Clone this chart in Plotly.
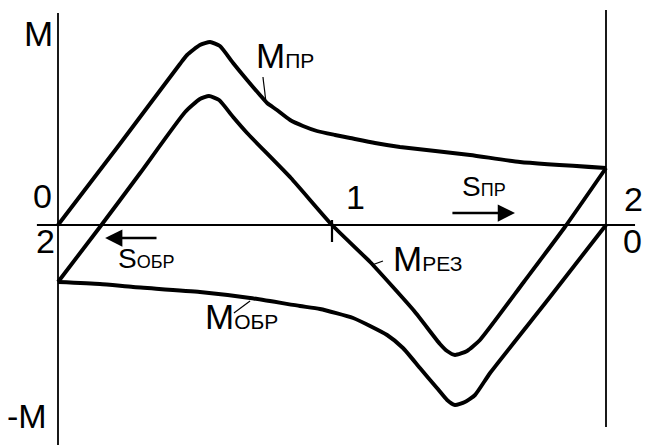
import plotly.graph_objects as go

# Torque vs. slip diagram: forward run (s from 0 to 2) and reverse run (s from 2 to 0)
# s axis: 0 .. 2 ; M axis: relative torque

# Forward torque M_ПР
s_pr = [0.0, 0.223, 0.445, 0.471, 0.518, 0.555, 0.591, 0.639, 0.690, 0.737, 0.763,
        0.799, 0.847, 0.894, 0.945, 1.011, 1.066, 1.157, 1.248, 1.504, 1.686, 2.0]
m_pr = [0.0, 0.80, 1.61, 1.70, 1.80, 1.83, 1.79, 1.62, 1.45, 1.30, 1.22,
        1.15, 1.05, 0.99, 0.94, 0.90, 0.87, 0.82, 0.78, 0.70, 0.63, 0.57]

# Resulting torque M_РЕЗ
s_rez = [0.0, 0.153, 0.300, 0.464, 0.518, 0.551, 0.588, 0.639, 0.690, 0.850, 1.0,
         1.139, 1.300, 1.394, 1.420, 1.449, 1.493, 1.540, 1.700, 1.850, 2.0]
m_rez = [-0.57, -0.02, 0.52, 1.13, 1.26, 1.29, 1.25, 1.08, 0.92, 0.47, 0.0,
         -0.37, -0.86, -1.19, -1.26, -1.30, -1.26, -1.15, -0.57, -0.02, 0.57]

# Reverse torque M_ОБР
s_obr = [0.0, 0.153, 0.274, 0.518, 0.701, 0.883, 0.956, 1.077, 1.201, 1.259, 1.321,
         1.383, 1.420, 1.449, 1.485, 1.522, 1.577, 1.790, 2.0]
m_obr = [-0.57, -0.59, -0.62, -0.67, -0.73, -0.81, -0.84, -0.93, -1.10, -1.23, -1.43,
         -1.63, -1.75, -1.80, -1.77, -1.70, -1.48, -0.74, 0.0]

X_RANGE = [-0.21168, 2.14234]
Y_RANGE = [-2.2, 2.25]
FONT = "Arial, Liberation Sans, sans-serif"
INK = "black"

fig = go.Figure()
for xs, ys in [(s_pr, m_pr), (s_rez, m_rez), (s_obr, m_obr)]:
    fig.add_trace(go.Scatter(x=xs, y=ys, mode="lines",
                             line=dict(color=INK, width=3.9, shape="spline", smoothing=0.5),
                             hoverinfo="skip", showlegend=False))

# coordinate axes
axis_lines = [
    dict(x0=0, x1=0, y0=2.12, y1=-2.25),          # left M axis
    dict(x0=2, x1=2, y0=2.15, y1=-2.02),          # right M axis
    dict(x0=-0.077, x1=2.106, y0=0, y1=0),        # s axis
]
for ln in axis_lines:
    fig.add_shape(type="line", xref="x", yref="y", line=dict(color=INK, width=1.8), **ln)
# tick at s = 1
fig.add_shape(type="line", xref="x", yref="y", x0=1, x1=1, y0=0.05, y1=-0.17,
              line=dict(color=INK, width=2.2))

# leader lines from curve names to curves
leaders = [
    (0.748, 1.48, 0.759, 1.23),
    (1.146, -0.40, 1.186, -0.36),
    (0.642, -0.88, 0.701, -0.76),
]
for x0, y0, x1, y1 in leaders:
    fig.add_shape(type="line", xref="x", yref="y", x0=x0, y0=y0, x1=x1, y1=y1,
                  line=dict(color=INK, width=1.2))

# direction arrows
for (hx, hy, tx, ty) in [(1.668, 0.12, 1.434, 0.12), (0.172, -0.13, 0.365, -0.13)]:
    fig.add_annotation(x=hx, y=hy, ax=tx, ay=ty, xref="x", yref="y", axref="x", ayref="y",
                       text="", showarrow=True, arrowhead=2, arrowsize=1.5, arrowwidth=2.3,
                       arrowcolor=INK, standoff=0, startstandoff=0)

def sub(main, small, size_main, size_small):
    return f"<span style='font-size:{size_main}px'>{main}</span><span style='font-size:{size_small}px'>{small}</span>"

labels = [
    ("M", -0.073, 1.92, "center", 35),
    ("0", -0.058, 0.29, "center", 34),
    ("2", -0.047, -0.16, "center", 34),
    ("-M", -0.113, -1.91, "center", 34),
    ("1", 1.084, 0.28, "center", 34),
    ("2", 2.102, 0.26, "center", 34),
    ("0", 2.095, -0.16, "center", 34),
    (sub("M", "ПР", 35, 21), 0.716, 1.70, "left", 35),
    (sub("S", "ПР", 28, 18), 1.466, 0.385, "left", 28),
    (sub("S", "ОБР", 28, 18), 0.212, -0.335, "left", 28),
    (sub("M", "РЕЗ", 35, 21), 1.216, -0.335, "left", 35),
    (sub("M", "ОБР", 35, 21), 0.529, -0.91, "left", 35),
]
for txt, x, y, anchor, size in labels:
    fig.add_annotation(x=x, y=y, xref="x", yref="y", text=txt, showarrow=False,
                       xanchor=anchor, yanchor="middle",
                       font=dict(family=FONT, size=size, color=INK))

fig.update_xaxes(range=X_RANGE, visible=False, fixedrange=True)
fig.update_yaxes(range=Y_RANGE, visible=False, fixedrange=True)
fig.update_layout(width=645, height=445, margin=dict(l=0, r=0, t=0, b=0),
                  plot_bgcolor="white", paper_bgcolor="white", showlegend=False)

fig.write_html("out.html", config={"displayModeBar": False})
